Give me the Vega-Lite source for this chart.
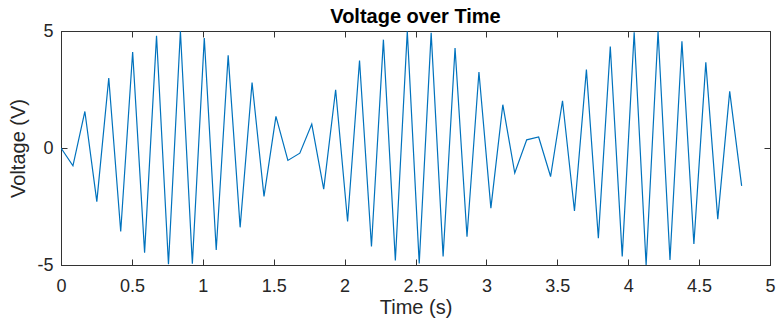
{
  "$schema": "https://vega.github.io/schema/vega-lite/v6.json",
  "width": 709,
  "height": 234,
  "autosize": {"type": "none"},
  "padding": {"left": 61, "top": 31, "right": 11, "bottom": 62},
  "background": "white",
  "title": {"text": "Voltage over Time", "fontSize": 20, "font": "Liberation Sans", "fontWeight": "bold", "color": "#000000", "offset": -5, "anchor": "middle"},
  "config": {
    "view": {"stroke": "#333333", "strokeWidth": 1},
    "axis": {"grid": false, "domainColor": "#333333", "tickColor": "#333333", "labelFont": "Liberation Sans", "titleFont": "Liberation Sans", "labelColor": "#262626", "titleColor": "#262626", "labelFontSize": 18, "titleFontSize": 20, "titleFontWeight": "normal", "tickSize": -6, "labelFlush": false, "labelOverlap": false}
  },
  "data": {"values": [
    {"t": 0, "v": 0}, {"t": 0.0842, "v": -0.76}, {"t": 0.1684, "v": 1.56}, {"t": 0.2526, "v": -2.29},
    {"t": 0.3368, "v": 2.99}, {"t": 0.4211, "v": -3.57}, {"t": 0.5053, "v": 4.10}, {"t": 0.5895, "v": -4.47},
    {"t": 0.6737, "v": 4.80}, {"t": 0.7579, "v": -4.97}, {"t": 0.8421, "v": 4.99}, {"t": 0.9263, "v": -4.95},
    {"t": 1.0105, "v": 4.70}, {"t": 1.0947, "v": -4.36}, {"t": 1.1789, "v": 3.96}, {"t": 1.2632, "v": -3.39},
    {"t": 1.3474, "v": 2.80}, {"t": 1.4316, "v": -2.07}, {"t": 1.5158, "v": 1.35}, {"t": 1.6, "v": -0.53},
    {"t": 1.6842, "v": -0.22}, {"t": 1.7684, "v": 1.02}, {"t": 1.8526, "v": -1.76}, {"t": 1.9368, "v": 2.49},
    {"t": 2.0211, "v": -3.14}, {"t": 2.1053, "v": 3.74}, {"t": 2.1895, "v": -4.21}, {"t": 2.2737, "v": 4.63},
    {"t": 2.3579, "v": -4.81}, {"t": 2.4421, "v": 4.99}, {"t": 2.5263, "v": -4.93}, {"t": 2.6105, "v": 4.92},
    {"t": 2.6947, "v": -4.64}, {"t": 2.7789, "v": 4.27}, {"t": 2.8632, "v": -3.79}, {"t": 2.9474, "v": 3.25},
    {"t": 3.0316, "v": -2.57}, {"t": 3.1158, "v": 1.85}, {"t": 3.2, "v": -1.07}, {"t": 3.2842, "v": 0.35},
    {"t": 3.3684, "v": 0.47}, {"t": 3.4526, "v": -1.22}, {"t": 3.5368, "v": 2.02}, {"t": 3.6211, "v": -2.69},
    {"t": 3.7053, "v": 3.35}, {"t": 3.7895, "v": -3.86}, {"t": 3.8737, "v": 4.34}, {"t": 3.9579, "v": -4.64},
    {"t": 4.0421, "v": 4.94}, {"t": 4.1263, "v": -5.0}, {"t": 4.2105, "v": 4.99}, {"t": 4.2947, "v": -4.78},
    {"t": 4.3789, "v": 4.56}, {"t": 4.4632, "v": -4.10}, {"t": 4.5474, "v": 3.66}, {"t": 4.6316, "v": -3.04},
    {"t": 4.7158, "v": 2.42}, {"t": 4.8, "v": -1.62}
  ]},
  "layer": [
    {
      "mark": {"type": "line", "color": "#0072BD", "strokeWidth": 1.2, "clip": true},
      "encoding": {
        "x": {"field": "t", "type": "quantitative", "scale": {"domain": [0, 5], "nice": false},
              "axis": {"orient": "bottom", "values": [0, 0.5, 1, 1.5, 2, 2.5, 3, 3.5, 4, 4.5, 5], "title": "Time (s)", "labelExpr": "toString(datum.value)", "labelPadding": 18, "titlePadding": 2}},
        "y": {"field": "v", "type": "quantitative", "scale": {"domain": [-5, 5], "nice": false, "zero": false},
              "axis": {"orient": "left", "values": [-5, 0, 5], "title": "Voltage (V)", "labelExpr": "toString(datum.value)", "labelPadding": 14, "titlePadding": 8}}
      }
    },
    {
      "mark": {"type": "line", "opacity": 0, "clip": true},
      "encoding": {
        "x": {"field": "t", "type": "quantitative", "scale": {"domain": [0, 5], "nice": false},
              "axis": {"orient": "top", "values": [0, 0.5, 1, 1.5, 2, 2.5, 3, 3.5, 4, 4.5, 5], "labels": false, "title": null}},
        "y": {"field": "v", "type": "quantitative", "scale": {"domain": [-5, 5], "nice": false, "zero": false},
              "axis": {"orient": "right", "values": [-5, 0, 5], "labels": false, "title": null}}
      }
    }
  ],
  "resolve": {"axis": {"x": "independent", "y": "independent"}}
}
